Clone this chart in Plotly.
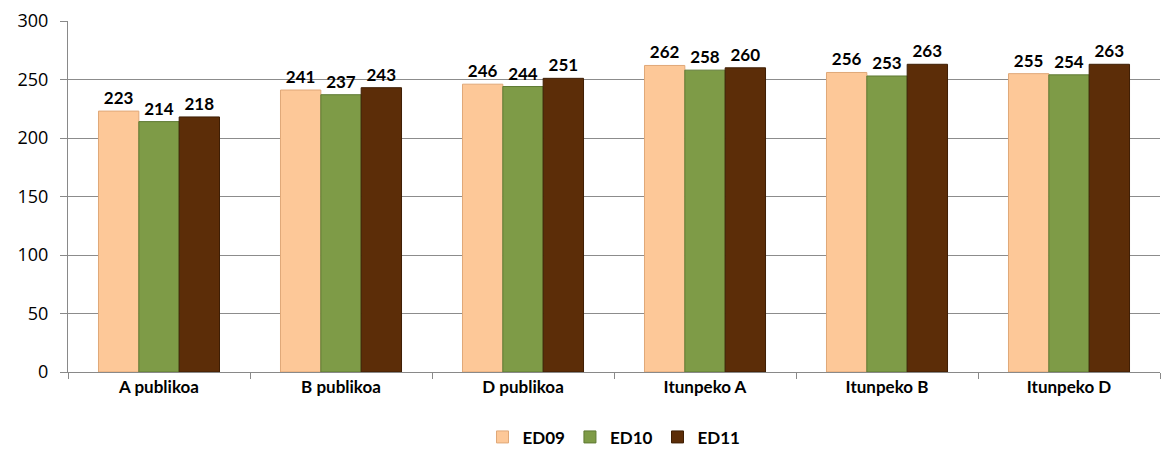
import plotly.graph_objects as go

categories = ["A publikoa", "B publikoa", "D publikoa", "Itunpeko A", "Itunpeko B", "Itunpeko D"]
ed09 = [223, 241, 246, 262, 256, 255]
ed10 = [214, 237, 244, 258, 253, 254]
ed11 = [218, 243, 251, 260, 263, 263]

series = [("ED09", ed09, "#FDC898", "#E0A878"),
          ("ED10", ed10, "#7E9B47", "#5F7A33"),
          ("ED11", ed11, "#5C2D08", "#3E1E04")]

fig = go.Figure()
for name, vals, col, line in series:
    fig.add_trace(go.Bar(
        name=name, x=categories, y=vals,
        marker=dict(color=col, line=dict(color=line, width=1)),
        text=[str(v) for v in vals], textposition="outside",
        textfont=dict(family="Lato", size=17, color="#000000", weight="bold"),
        cliponaxis=False,
    ))

fig.update_layout(
    width=1163, height=455,
    margin=dict(l=68, r=3, t=21, b=83, autoexpand=False),
    barmode="group", bargap=0.335, bargroupgap=0,
    plot_bgcolor="white", paper_bgcolor="white",
    legend=dict(orientation="h", x=0.5, xanchor="center", y=-0.135, yanchor="top",
                font=dict(family="Lato", size=17, color="#000000", weight="bold"),
                itemwidth=30, traceorder="normal"),
    xaxis=dict(showline=True, linecolor="#898989", linewidth=1, automargin=False,
               ticks="outside", tickson="boundaries", ticklen=6, tickcolor="#898989",
               tickfont=dict(family="Lato", size=17, color="#000000", weight="bold")),
    yaxis=dict(range=[0, 300], dtick=50, showgrid=True, gridcolor="#8C8C8C", gridwidth=1,
               showline=True, linecolor="#898989", ticks="outside", ticklen=7, tickcolor="#898989",
               automargin=False, ticklabelstandoff=8,
               tickfont=dict(family="Open Sans", size=18, color="#000000"), zeroline=False),
    showlegend=True,
)
fig.write_html("out.html", post_script="document.body.style.margin='0px';",
               config={"displayModeBar": False})
